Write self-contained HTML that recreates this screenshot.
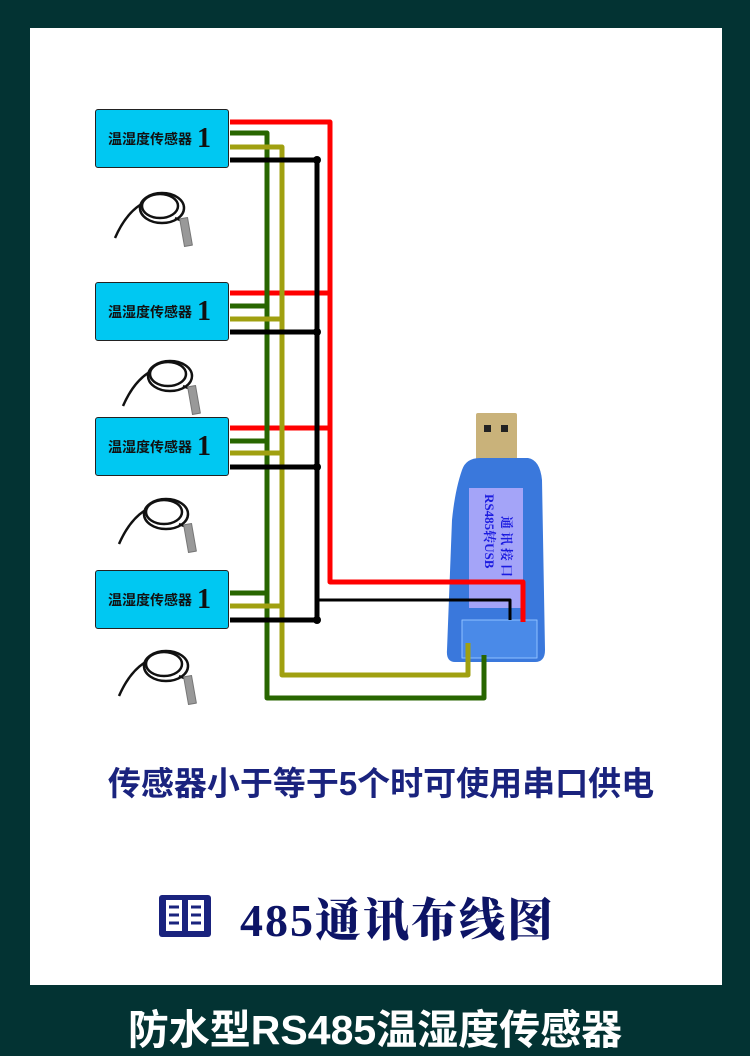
<!DOCTYPE html>
<html><head><meta charset="utf-8"><style>
html,body{margin:0;padding:0}
body{width:750px;height:1056px;background:#033333;position:relative;overflow:hidden;font-family:"Liberation Sans","Noto Sans CJK SC",sans-serif}
.white{position:absolute;left:30px;top:28px;width:692px;height:957px;background:#fff}
.box{position:absolute;left:95px;width:134px;height:59px;background:#00c8f2;border:1px solid #222;border-radius:3px;box-sizing:border-box;font-weight:bold;font-size:14px;color:#111;line-height:57px;padding-left:12px;font-family:"Liberation Sans","Noto Sans CJK SC",sans-serif;white-space:nowrap}
.box b{font-family:"Liberation Serif",serif;font-size:28px;margin-left:5px;vertical-align:-3px}
.t1{position:absolute;left:0;width:762px;top:757px;text-align:center;font-size:33px;font-weight:bold;color:#1a237e}
.t2{position:absolute;left:240px;top:884px;font-size:46px;font-weight:900;color:#0d1466;letter-spacing:2px;font-family:"Liberation Serif","Noto Serif CJK SC",serif;white-space:nowrap}
.t3{position:absolute;left:0;width:750px;top:996px;text-align:center;font-size:41px;font-weight:bold;color:#fff;white-space:nowrap}
</style></head><body>
<div class="white"></div>
<svg width="750" height="1056" style="position:absolute;left:0;top:0">
<g fill="none" stroke-linejoin="round">
<rect x="476" y="413" width="41" height="50" fill="#c9b27a" rx="2"/>
<rect x="484" y="425" width="7" height="7" fill="#222"/><rect x="501" y="425" width="7" height="7" fill="#222"/>
<path d="M462 470 Q466 458 480 458 L528 458 Q540 460 542 480 L545 650 Q545 662 535 662 L455 662 Q446 662 447 650 L452 520 Q455 490 462 470Z" fill="#3a78dc"/>
<rect x="469" y="488" width="54" height="120" fill="#a4a4f8"/>
<text transform="translate(485,494) rotate(90)" font-size="13" font-family="Liberation Serif,Noto Serif CJK SC,serif" fill="#1c1ce0" font-weight="bold">RS485转USB</text>
<text transform="translate(502,516) rotate(90)" font-size="13" font-family="Noto Serif CJK SC,serif" fill="#1c1ce0" font-weight="bold" letter-spacing="3">通讯接口</text>
<rect x="462" y="620" width="75" height="38" fill="#4a8ae8" stroke="#8fc0ff" stroke-width="1"/>
<g stroke="#ff0000" stroke-width="5">
<path d="M230 122 H330 V582 H523 V622"/>
<path d="M230 293 H330"/><path d="M230 428 H330"/>
</g>
<g stroke="#286600" stroke-width="5">
<path d="M230 133 H267 V698 H484 V655"/>
<path d="M230 306 H267"/><path d="M230 441 H267"/><path d="M230 593 H267"/>
</g>
<g stroke="#a0a010" stroke-width="5">
<path d="M230 147 H282 V675 H468 V643"/>
<path d="M230 319 H282"/><path d="M230 453 H282"/><path d="M230 606 H282"/>
</g>
<g stroke="#000" stroke-width="5">
<path d="M230 160 H317 V620 H230"/>
<path d="M230 332 H317"/><path d="M230 467 H317"/>
</g>
<path d="M317 600 H510 V620" stroke="#000" stroke-width="3"/>
<g fill="#000"><circle cx="317" cy="160" r="4"/><circle cx="317" cy="332" r="4"/><circle cx="317" cy="467" r="4"/><circle cx="317" cy="620" r="4"/></g>
<g id="p" stroke="#111" stroke-width="2.5">
<ellipse cx="162" cy="208" rx="22" ry="15"/><ellipse cx="160" cy="206" rx="18" ry="12"/>
<path d="M140 205 Q125 215 115 238"/><path d="M175 218 L185 222"/>
<rect x="182" y="218" width="8" height="28" fill="#999" stroke="#777" stroke-width="1" transform="rotate(-10 186 232)"/>
</g>
<use href="#p" transform="translate(8,168)"/>
<use href="#p" transform="translate(4,306)"/>
<use href="#p" transform="translate(4,458)"/>
<rect x="159" y="895" width="52" height="42" rx="3" fill="#1a237e"/>
<g fill="#fff"><rect x="166" y="900" width="16" height="31"/><rect x="188" y="900" width="16" height="31"/></g>
<g stroke="#1a237e" stroke-width="3"><path d="M169 907h10M169 915h10M169 923h10M191 907h10M191 915h10M191 923h10"/></g>
</g>
</svg>
<div class="box" style="top:109px">温湿度传感器<b>1</b></div>
<div class="box" style="top:282px">温湿度传感器<b>1</b></div>
<div class="box" style="top:417px">温湿度传感器<b>1</b></div>
<div class="box" style="top:570px">温湿度传感器<b>1</b></div>
<div class="t1">传感器小于等于5个时可使用串口供电</div>
<div class="t2">485通讯布线图</div>
<div class="t3">防水型RS485温湿度传感器</div>
</body></html>
